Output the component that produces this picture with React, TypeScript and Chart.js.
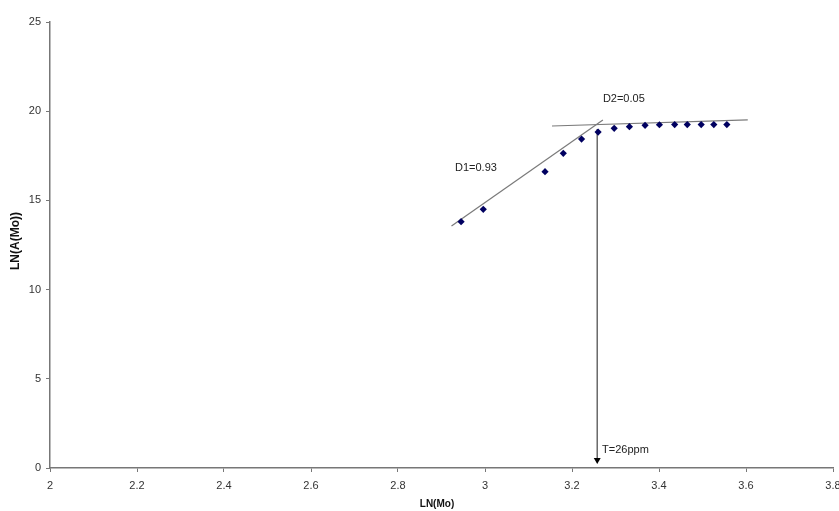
import React, { useEffect, useRef } from "react";
import { Chart, registerables } from "chart.js";

Chart.register(...registerables);

// Measured points
const lnMo = [2.945, 2.996, 3.138, 3.18, 3.222, 3.26, 3.297, 3.332, 3.368, 3.401, 3.436, 3.465, 3.497, 3.526, 3.556];
const lnAMo = [13.81, 14.5, 16.61, 17.64, 18.44, 18.83, 19.04, 19.13, 19.21, 19.24, 19.25, 19.25, 19.25, 19.25, 19.25];

// Fitted lines (end points)
const d1X = [2.923, 3.271];
const d1Y = [13.57, 19.51];
const d2X = [3.154, 3.604];
const d2Y = [19.17, 19.51];

// Threshold arrow
const tX = 3.258;
const tY = [19.0, 0.45];

// Tick labels
const xTicks = [2, 2.2, 2.4, 2.6, 2.8, 3, 3.2, 3.4, 3.6, 3.8];
const yTicks = [0, 5, 10, 15, 20, 25];

// Annotation labels
const annoText = ["D1=0.93", "D2=0.05", "T=26ppm"];
const annoX = [2.931, 3.271, 3.269];
const annoY = [16.82, 20.68, 1.01];

const xTitle = "LN(Mo)";
const yTitle = "LN(A(Mo))";

export default function App() {
  const ref = useRef<HTMLCanvasElement | null>(null);

  useEffect(() => {
    const canvas = ref.current;
    if (!canvas) return;
    const font = "'Liberation Sans', Arial, sans-serif";

    const plugin = {
      id: "extras",
      beforeDraw(chart: any) {
        const c = chart.ctx;
        c.save();
        c.fillStyle = "#ffffff";
        c.fillRect(0, 0, chart.width, chart.height);
        c.restore();
      },
      afterDraw(chart: any) {
        const c = chart.ctx;
        const xs = chart.scales.x;
        const ys = chart.scales.y;
        c.save();
        c.fillStyle = "#222";
        c.font = `11px ${font}`;
        c.textAlign = "left";
        c.textBaseline = "middle";
        annoText.forEach((t, i) => {
          c.fillText(t, xs.getPixelForValue(annoX[i]), ys.getPixelForValue(annoY[i]));
        });
        c.font = `bold 10px ${font}`;
        c.fillStyle = "#111";
        c.textAlign = "center";
        const area = chart.chartArea;
        c.fillText(xTitle, area.left + 387, 504);
        c.font = `bold 12px ${font}`;
        c.translate(area.left - 34, (area.top + area.bottom) / 2 - 4);
        c.rotate(-Math.PI / 2);
        c.fillText(yTitle, 0, 0);
        c.restore();
      },
    };

    const chart = new Chart(canvas, {
      type: "scatter",
      data: {
        datasets: [
          {
            data: lnMo.map((x, i) => ({ x, y: lnAMo[i] })),
            pointStyle: "rectRot",
            pointRadius: 3.6,
            pointBackgroundColor: "#000060",
            pointBorderColor: "#000060",
            pointBorderWidth: 0,
            showLine: false,
          },
          {
            data: d1X.map((x, i) => ({ x, y: d1Y[i] })),
            showLine: true,
            borderColor: "#7a7a7a",
            borderWidth: 1.2,
            pointRadius: 0,
          },
          {
            data: d2X.map((x, i) => ({ x, y: d2Y[i] })),
            showLine: true,
            borderColor: "#7a7a7a",
            borderWidth: 1.2,
            pointRadius: 0,
          },
          {
            data: tY.map((y) => ({ x: tX, y })),
            showLine: true,
            borderColor: "#6a6a6a",
            borderWidth: 1.5,
            pointRadius: [0, 4],
            pointStyle: "triangle",
            rotation: 180,
            pointBackgroundColor: "#000",
            pointBorderColor: "#000",
            pointBorderWidth: 0,
          },
        ],
      },
      options: {
        animation: false,
        responsive: false,
        devicePixelRatio: 1,
        layout: { padding: { left: 0, right: 6, top: 22, bottom: 0 } },
        plugins: { legend: { display: false }, tooltip: { enabled: false } },
        scales: {
          x: {
            type: "linear",
            min: 2,
            max: 3.8,
            afterBuildTicks: (s: any) => {
              s.ticks = xTicks.map((v) => ({ value: v }));
            },
            afterFit: (s: any) => {
              s.height = 43;
              s.paddingLeft = 0;
              s.paddingRight = 0;
            },
            grid: { drawOnChartArea: false, drawTicks: true, tickLength: 4, color: "#777" },
            border: { display: true, color: "#777", width: 1.5 },
            ticks: {
              color: "#333",
              font: { family: font, size: 11 },
              padding: 7,
              maxRotation: 0,
              autoSkip: false,
              callback: (v: any) => String(v),
            },
          },
          y: {
            type: "linear",
            min: 0,
            max: 25,
            afterBuildTicks: (s: any) => {
              s.ticks = yTicks.map((v) => ({ value: v }));
            },
            afterFit: (s: any) => {
              s.width = 50;
              s.paddingTop = 0;
              s.paddingBottom = 0;
            },
            grid: { drawOnChartArea: false, drawTicks: true, tickLength: 4, color: "#777" },
            border: { display: true, color: "#777", width: 1.5 },
            ticks: {
              color: "#333",
              font: { family: font, size: 11 },
              padding: 5,
              autoSkip: false,
              callback: (v: any) => String(v),
            },
          },
        },
      },
      plugins: [plugin],
    });

    return () => chart.destroy();
  }, []);

  return (
    <div style={{ position: "fixed", left: 0, top: 0, width: 839, height: 511, background: "#fff" }}>
      <canvas ref={ref} width={839} height={511} style={{ width: 839, height: 511, display: "block" }} />
    </div>
  );
}
